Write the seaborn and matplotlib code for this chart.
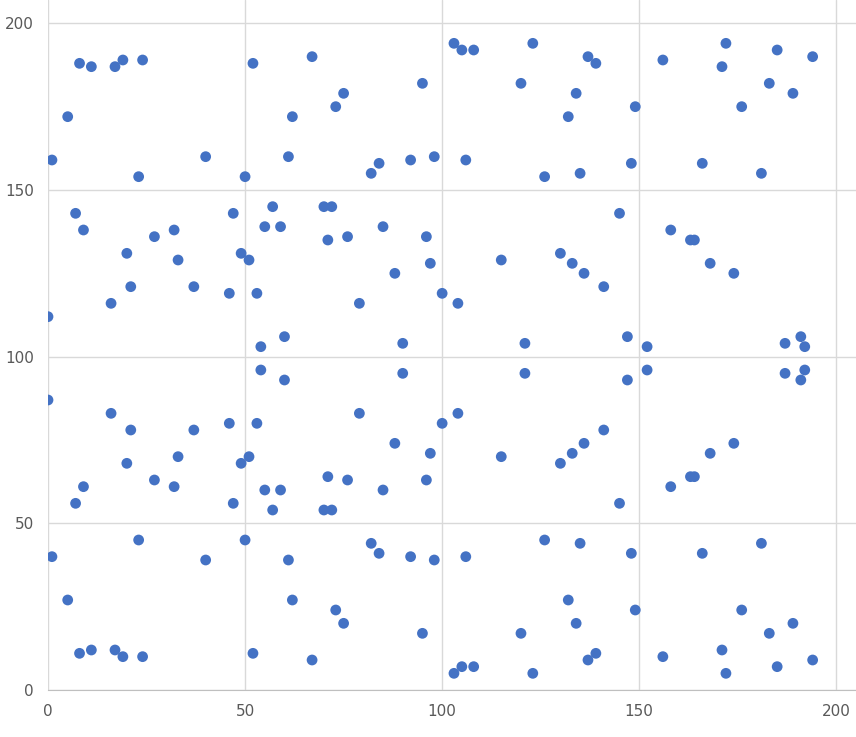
import matplotlib
matplotlib.use("Agg")
import matplotlib.pyplot as plt
import seaborn as sns
import pandas as pd

# upper half points
x_top = [0, 1, 5, 8, 11, 7, 9, 17, 19, 24, 23, 20, 21, 16, 27, 32, 33, 37, 40, 46,
         47, 50, 49, 51, 52, 53, 54, 55, 57, 59, 60, 61, 62, 67, 70, 72, 71, 73, 75, 76,
         79, 82, 84, 85, 88, 90, 92, 95, 96, 97, 98, 100, 103, 104, 105, 106, 108, 115,
         120, 121, 123, 126, 130, 132, 133, 134, 135, 136, 137, 139, 141, 145, 147, 148,
         149, 152, 156, 158, 163, 164, 166, 168, 171, 172, 174, 176, 181, 183, 185, 187,
         189, 191, 192, 194]
y_top = [112, 159, 172, 188, 187, 143, 138, 187, 189, 189, 154, 131, 121, 116, 136, 138,
         129, 121, 160, 119, 143, 154, 131, 129, 188, 119, 103, 139, 145, 139, 106, 160,
         172, 190, 145, 145, 135, 175, 179, 136, 116, 155, 158, 139, 125, 104, 159, 182,
         136, 128, 160, 119, 194, 116, 192, 159, 192, 129, 182, 104, 194, 154, 131, 172,
         128, 179, 155, 125, 190, 188, 121, 143, 106, 158, 175, 103, 189, 138, 135, 135,
         158, 128, 187, 194, 125, 175, 155, 182, 192, 104, 179, 106, 103, 190]
# lower half points
x_bot = list(x_top)
y_bot = [87, 40, 27, 11, 12, 56, 61, 12, 10, 10, 45, 68, 78, 83, 63, 61, 70, 78, 39, 80,
         56, 45, 68, 70, 11, 80, 96, 60, 54, 60, 93, 39, 27, 9, 54, 54, 64, 24, 20, 63,
         83, 44, 41, 60, 74, 95, 40, 17, 63, 71, 39, 80, 5, 83, 7, 40, 7, 70, 17, 95, 5,
         45, 68, 27, 71, 20, 44, 74, 9, 11, 78, 56, 93, 41, 24, 96, 10, 61, 64, 64, 41,
         71, 12, 5, 74, 24, 44, 17, 7, 95, 20, 93, 96, 9]

df = pd.DataFrame({"x": x_top + x_bot, "y": y_top + y_bot})

sns.set_style("white")
fig = plt.figure(figsize=(8.56, 7.37), dpi=100)
ax = fig.add_axes([48 / 856, 47 / 737, 1 - 48 / 856, 1 - 47 / 737])
sns.scatterplot(data=df, x="x", y="y", ax=ax, color="#4472C4", s=60,
                edgecolor="none", zorder=3)
ax.set_xlim(0, 205)
ax.set_ylim(0, 207)
ax.set_xticks(range(0, 201, 50))
ax.set_yticks(range(0, 201, 50))
ax.grid(True, color="#d9d9d9", linewidth=1)
for s in ["top", "right", "left"]:
    ax.spines[s].set_visible(False)
ax.spines["bottom"].set_color("#bfbfbf")
ax.tick_params(length=0, labelsize=11, labelcolor="#595959", pad=10)
ax.set_xlabel("")
ax.set_ylabel("")
fig.savefig("out.png", dpi=100)
